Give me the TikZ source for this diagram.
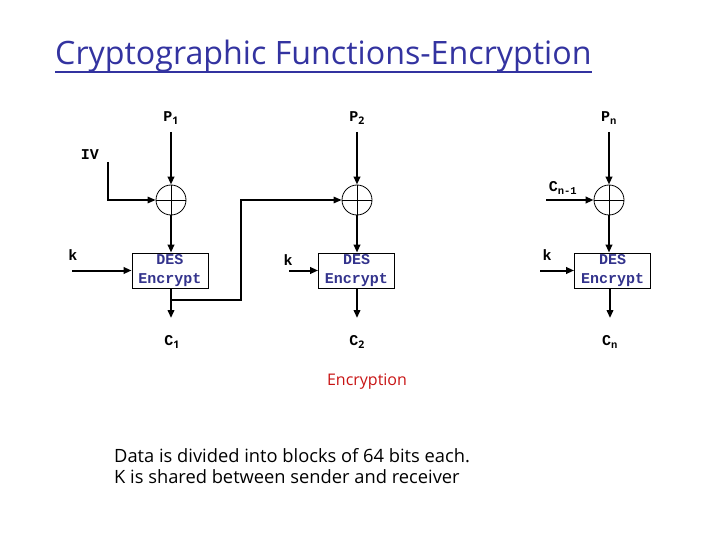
\documentclass[tikz,border=0pt]{standalone}
\usepackage{fontspec}
\setmainfont{Open Sans}
\newfontfamily\mono{Liberation Mono}
\usetikzlibrary{arrows.meta,calc}
\definecolor{titleblue}{RGB}{51,51,160}
\definecolor{desblue}{RGB}{51,51,140}
\definecolor{encred}{RGB}{200,20,20}
\begin{document}
\begin{tikzpicture}[x=1pt,y=-1pt,
  lbl/.style={font=\mono\bfseries\fontsize{15}{17}\selectfont, inner sep=0pt},
  xor/.style={draw, circle, minimum size=30pt, inner sep=0pt, line width=0.8pt},
  desbox/.style={draw, rectangle, minimum width=76pt, minimum height=35pt, inner sep=0pt, line width=0.8pt,
     font=\mono\bfseries\fontsize{15}{19}\selectfont, text=desblue, align=center},
  tip/.style={-{Triangle[length=8pt,width=6.5pt]}},
  arr/.style={tip, line width=2pt},
  thin/.style={line width=1.3pt}]
\useasboundingbox (0,0) rectangle (720,540);
% title
\node[anchor=base west, inner sep=0pt, font=\fontsize{32.2}{36}\selectfont, text=titleblue] (title) at (55,65) {Cryptographic Functions-Encryption};
\draw[titleblue, line width=1.6pt] ($(title.base west)+(0,7)$) coordinate (ul1) -- ($(title.base east)+(0,7)$) coordinate (ul2);
% labels
\node[lbl] (p1) at (171,118) {P$_{\mathbf 1}$};
\node[lbl] (p2) at (357,118) {P$_{\mathbf 2}$};
\node[lbl] (pn) at (609,118) {P\textsubscript{n}};
\node[lbl] (iv) at (90,155) {IV};
\node[lbl] (cn1) at (563,188) {C\textsubscript{n-1}};
% xors
\node[xor] (x1) at (171,200) {};
\node[xor] (x2) at (357,200) {};
\node[xor] (x3) at (609,200) {};
\foreach \x in {x1,x2,x3}{\draw[line width=0.8pt] (\x.north)--(\x.south) (\x.west)--(\x.east);}
% DES boxes
\node[desbox] (d1) at (170,270.5) {DES\\Encrypt};
\node[desbox] (d2) at (356.5,270.5) {DES\\Encrypt};
\node[desbox] (d3) at (612.5,270.5) {DES\\Encrypt};
% keys
\node[lbl] (k1) at (73,255) {k};
\node[lbl] (k2) at (288,260) {k};
\node[lbl] (k3) at (547,255) {k};
\coordinate (k1s) at (72,270.5);
\coordinate (k2s) at (289,270.5);
\coordinate (k3s) at (540,270.5);
\draw[arr] (k1s) -- (d1.west);
\draw[arr] (k2s) -- (d2.west);
\draw[arr] (k3s) -- (d3.west);
% outputs
\node[lbl] (c1) at (172,342) {C$_{\mathbf 1}$};
\node[lbl] (c2) at (357,342) {C$_{\mathbf 2}$};
\node[lbl] (cn) at (610,342) {C\textsubscript{n}};
\coordinate (o1) at (171,318);
\coordinate (o2) at (357,318);
\coordinate (o3) at (610,318);
% vertical arrows
\draw[arr] (p1.south |- 0,132) -- (x1.north);
\draw[arr] (p2.south |- 0,132) -- (x2.north);
\draw[arr] (pn.south |- 0,132) -- (x3.north);
\draw[arr] (x1.south) -- (d1.north -| x1.south);
\draw[arr] (x2.south) -- (d2.north -| x2.south);
\draw[arr] (x3.south) -- (d3.north -| x3.south);
\draw[arr] (d1.south -| o1) -- (o1);
\draw[arr] (d2.south -| o2) -- (o2);
\draw[arr] (d3.south -| o3) -- (o3);
% IV feed
\coordinate (ivs) at (108,162);
\draw[thin, tip] (ivs) |- (x1.west);
% chaining
\coordinate (fb) at (172,300);
\coordinate (fbc) at (241,300);
\draw[thin, tip] (fb) -- (fbc) |- (x2.west);
\coordinate (cns) at (546,200);
\draw[arr] (cns) -- (x3.west);
% captions
\node[text=encred, font=\fontsize{16}{18}\selectfont, inner sep=0pt] (enc) at (367,382) {Encryption};
\node[anchor=base west, align=left, inner sep=0pt, font=\fontsize{18.3}{21}\selectfont] (note) at (114,483) {Data is divided into blocks of 64 bits each.\\K is shared between sender and receiver};
\end{tikzpicture}
\end{document}
